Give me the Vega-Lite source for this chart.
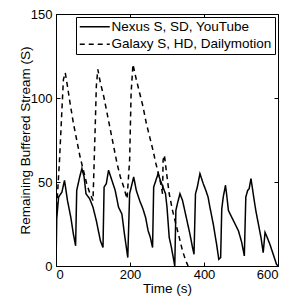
{
  "$schema": "https://vega.github.io/schema/vega-lite/v6.json",
  "width": 222,
  "height": 252,
  "autosize": {"type": "none"},
  "padding": {"left": 56, "top": 14, "right": 14, "bottom": 31},
  "config": {
    "font": "Liberation Sans",
    "view": {"stroke": "black", "strokeWidth": 1},
    "axis": {
      "domain": false,
      "grid": false,
      "tickColor": "black",
      "tickSize": -4,
      "tickWidth": 1,
      "labelColor": "black",
      "labelFontSize": 13,
      "labelFont": "Liberation Sans",
      "titleColor": "black",
      "titleFontSize": 13.5,
      "titleFontWeight": "normal",
      "titleFont": "Liberation Sans"
    }
  },
  "data": {
    "values": [
      {"t": 0, "v": 0, "s": "Nexus S, SD, YouTube"},
      {"t": 2, "v": 28, "s": "Nexus S, SD, YouTube"},
      {"t": 7, "v": 41, "s": "Nexus S, SD, YouTube"},
      {"t": 16, "v": 44, "s": "Nexus S, SD, YouTube"},
      {"t": 23, "v": 51, "s": "Nexus S, SD, YouTube"},
      {"t": 31, "v": 39, "s": "Nexus S, SD, YouTube"},
      {"t": 40, "v": 29, "s": "Nexus S, SD, YouTube"},
      {"t": 47, "v": 19, "s": "Nexus S, SD, YouTube"},
      {"t": 53, "v": 12, "s": "Nexus S, SD, YouTube"},
      {"t": 56, "v": 45, "s": "Nexus S, SD, YouTube"},
      {"t": 64, "v": 53, "s": "Nexus S, SD, YouTube"},
      {"t": 70, "v": 58, "s": "Nexus S, SD, YouTube"},
      {"t": 76, "v": 53, "s": "Nexus S, SD, YouTube"},
      {"t": 81, "v": 43, "s": "Nexus S, SD, YouTube"},
      {"t": 91, "v": 40, "s": "Nexus S, SD, YouTube"},
      {"t": 100, "v": 35, "s": "Nexus S, SD, YouTube"},
      {"t": 109, "v": 27, "s": "Nexus S, SD, YouTube"},
      {"t": 120, "v": 15, "s": "Nexus S, SD, YouTube"},
      {"t": 127, "v": 11, "s": "Nexus S, SD, YouTube"},
      {"t": 130, "v": 47, "s": "Nexus S, SD, YouTube"},
      {"t": 136, "v": 49, "s": "Nexus S, SD, YouTube"},
      {"t": 142, "v": 57, "s": "Nexus S, SD, YouTube"},
      {"t": 151, "v": 51, "s": "Nexus S, SD, YouTube"},
      {"t": 160, "v": 45, "s": "Nexus S, SD, YouTube"},
      {"t": 169, "v": 35, "s": "Nexus S, SD, YouTube"},
      {"t": 178, "v": 31, "s": "Nexus S, SD, YouTube"},
      {"t": 185, "v": 19, "s": "Nexus S, SD, YouTube"},
      {"t": 194, "v": 5, "s": "Nexus S, SD, YouTube"},
      {"t": 199, "v": 43, "s": "Nexus S, SD, YouTube"},
      {"t": 210, "v": 53, "s": "Nexus S, SD, YouTube"},
      {"t": 217, "v": 45, "s": "Nexus S, SD, YouTube"},
      {"t": 226, "v": 39, "s": "Nexus S, SD, YouTube"},
      {"t": 235, "v": 34, "s": "Nexus S, SD, YouTube"},
      {"t": 242, "v": 29, "s": "Nexus S, SD, YouTube"},
      {"t": 249, "v": 21, "s": "Nexus S, SD, YouTube"},
      {"t": 255, "v": 17, "s": "Nexus S, SD, YouTube"},
      {"t": 261, "v": 11, "s": "Nexus S, SD, YouTube"},
      {"t": 264, "v": 47, "s": "Nexus S, SD, YouTube"},
      {"t": 270, "v": 51, "s": "Nexus S, SD, YouTube"},
      {"t": 276, "v": 55, "s": "Nexus S, SD, YouTube"},
      {"t": 282, "v": 51, "s": "Nexus S, SD, YouTube"},
      {"t": 289, "v": 47, "s": "Nexus S, SD, YouTube"},
      {"t": 296, "v": 43, "s": "Nexus S, SD, YouTube"},
      {"t": 300, "v": 35, "s": "Nexus S, SD, YouTube"},
      {"t": 306, "v": 17, "s": "Nexus S, SD, YouTube"},
      {"t": 312, "v": 11, "s": "Nexus S, SD, YouTube"},
      {"t": 321, "v": 0, "s": "Nexus S, SD, YouTube"},
      {"t": 324, "v": 33, "s": "Nexus S, SD, YouTube"},
      {"t": 328, "v": 37, "s": "Nexus S, SD, YouTube"},
      {"t": 335, "v": 43, "s": "Nexus S, SD, YouTube"},
      {"t": 342, "v": 39, "s": "Nexus S, SD, YouTube"},
      {"t": 348, "v": 33, "s": "Nexus S, SD, YouTube"},
      {"t": 354, "v": 27, "s": "Nexus S, SD, YouTube"},
      {"t": 362, "v": 19, "s": "Nexus S, SD, YouTube"},
      {"t": 369, "v": 11, "s": "Nexus S, SD, YouTube"},
      {"t": 373, "v": 7, "s": "Nexus S, SD, YouTube"},
      {"t": 377, "v": 43, "s": "Nexus S, SD, YouTube"},
      {"t": 382, "v": 47, "s": "Nexus S, SD, YouTube"},
      {"t": 389, "v": 55, "s": "Nexus S, SD, YouTube"},
      {"t": 398, "v": 49, "s": "Nexus S, SD, YouTube"},
      {"t": 405, "v": 45, "s": "Nexus S, SD, YouTube"},
      {"t": 411, "v": 41, "s": "Nexus S, SD, YouTube"},
      {"t": 416, "v": 35, "s": "Nexus S, SD, YouTube"},
      {"t": 425, "v": 25, "s": "Nexus S, SD, YouTube"},
      {"t": 434, "v": 13, "s": "Nexus S, SD, YouTube"},
      {"t": 440, "v": 4, "s": "Nexus S, SD, YouTube"},
      {"t": 445, "v": 5, "s": "Nexus S, SD, YouTube"},
      {"t": 448, "v": 34, "s": "Nexus S, SD, YouTube"},
      {"t": 452, "v": 41, "s": "Nexus S, SD, YouTube"},
      {"t": 458, "v": 48, "s": "Nexus S, SD, YouTube"},
      {"t": 461, "v": 43, "s": "Nexus S, SD, YouTube"},
      {"t": 466, "v": 33, "s": "Nexus S, SD, YouTube"},
      {"t": 475, "v": 29, "s": "Nexus S, SD, YouTube"},
      {"t": 484, "v": 25, "s": "Nexus S, SD, YouTube"},
      {"t": 493, "v": 21, "s": "Nexus S, SD, YouTube"},
      {"t": 502, "v": 14, "s": "Nexus S, SD, YouTube"},
      {"t": 509, "v": 6, "s": "Nexus S, SD, YouTube"},
      {"t": 513, "v": 41, "s": "Nexus S, SD, YouTube"},
      {"t": 518, "v": 45, "s": "Nexus S, SD, YouTube"},
      {"t": 522, "v": 46, "s": "Nexus S, SD, YouTube"},
      {"t": 527, "v": 52, "s": "Nexus S, SD, YouTube"},
      {"t": 533, "v": 43, "s": "Nexus S, SD, YouTube"},
      {"t": 540, "v": 33, "s": "Nexus S, SD, YouTube"},
      {"t": 547, "v": 25, "s": "Nexus S, SD, YouTube"},
      {"t": 554, "v": 17, "s": "Nexus S, SD, YouTube"},
      {"t": 560, "v": 8, "s": "Nexus S, SD, YouTube"},
      {"t": 565, "v": 20, "s": "Nexus S, SD, YouTube"},
      {"t": 569, "v": 18, "s": "Nexus S, SD, YouTube"},
      {"t": 578, "v": 13, "s": "Nexus S, SD, YouTube"},
      {"t": 587, "v": 7, "s": "Nexus S, SD, YouTube"},
      {"t": 596, "v": 1, "s": "Nexus S, SD, YouTube"},
      {"t": 600, "v": 0, "s": "Nexus S, SD, YouTube"},
      {"t": 2, "v": 35, "s": "Galaxy S, HD, Dailymotion"},
      {"t": 9.5, "v": 63, "s": "Galaxy S, HD, Dailymotion"},
      {"t": 16, "v": 93, "s": "Galaxy S, HD, Dailymotion"},
      {"t": 20, "v": 111, "s": "Galaxy S, HD, Dailymotion"},
      {"t": 25, "v": 115, "s": "Galaxy S, HD, Dailymotion"},
      {"t": 31, "v": 107, "s": "Galaxy S, HD, Dailymotion"},
      {"t": 38, "v": 97, "s": "Galaxy S, HD, Dailymotion"},
      {"t": 47, "v": 85, "s": "Galaxy S, HD, Dailymotion"},
      {"t": 56, "v": 75, "s": "Galaxy S, HD, Dailymotion"},
      {"t": 65, "v": 65, "s": "Galaxy S, HD, Dailymotion"},
      {"t": 74, "v": 57, "s": "Galaxy S, HD, Dailymotion"},
      {"t": 83, "v": 49, "s": "Galaxy S, HD, Dailymotion"},
      {"t": 92, "v": 43, "s": "Galaxy S, HD, Dailymotion"},
      {"t": 100, "v": 39, "s": "Galaxy S, HD, Dailymotion"},
      {"t": 106, "v": 83, "s": "Galaxy S, HD, Dailymotion"},
      {"t": 109, "v": 107, "s": "Galaxy S, HD, Dailymotion"},
      {"t": 113, "v": 117, "s": "Galaxy S, HD, Dailymotion"},
      {"t": 120, "v": 109, "s": "Galaxy S, HD, Dailymotion"},
      {"t": 129, "v": 101, "s": "Galaxy S, HD, Dailymotion"},
      {"t": 138, "v": 91, "s": "Galaxy S, HD, Dailymotion"},
      {"t": 147, "v": 81, "s": "Galaxy S, HD, Dailymotion"},
      {"t": 156, "v": 71, "s": "Galaxy S, HD, Dailymotion"},
      {"t": 165, "v": 61, "s": "Galaxy S, HD, Dailymotion"},
      {"t": 174, "v": 53, "s": "Galaxy S, HD, Dailymotion"},
      {"t": 183, "v": 47, "s": "Galaxy S, HD, Dailymotion"},
      {"t": 192, "v": 40, "s": "Galaxy S, HD, Dailymotion"},
      {"t": 199, "v": 63, "s": "Galaxy S, HD, Dailymotion"},
      {"t": 203, "v": 103, "s": "Galaxy S, HD, Dailymotion"},
      {"t": 208, "v": 120, "s": "Galaxy S, HD, Dailymotion"},
      {"t": 217, "v": 111, "s": "Galaxy S, HD, Dailymotion"},
      {"t": 226, "v": 103, "s": "Galaxy S, HD, Dailymotion"},
      {"t": 235, "v": 95, "s": "Galaxy S, HD, Dailymotion"},
      {"t": 244, "v": 85, "s": "Galaxy S, HD, Dailymotion"},
      {"t": 253, "v": 77, "s": "Galaxy S, HD, Dailymotion"},
      {"t": 262, "v": 69, "s": "Galaxy S, HD, Dailymotion"},
      {"t": 270, "v": 61, "s": "Galaxy S, HD, Dailymotion"},
      {"t": 279, "v": 53, "s": "Galaxy S, HD, Dailymotion"},
      {"t": 285, "v": 47, "s": "Galaxy S, HD, Dailymotion"},
      {"t": 288, "v": 43, "s": "Galaxy S, HD, Dailymotion"},
      {"t": 289.5, "v": 63, "s": "Galaxy S, HD, Dailymotion"},
      {"t": 293, "v": 66, "s": "Galaxy S, HD, Dailymotion"},
      {"t": 299, "v": 55, "s": "Galaxy S, HD, Dailymotion"},
      {"t": 306, "v": 43, "s": "Galaxy S, HD, Dailymotion"},
      {"t": 315, "v": 33, "s": "Galaxy S, HD, Dailymotion"},
      {"t": 324, "v": 25, "s": "Galaxy S, HD, Dailymotion"},
      {"t": 333, "v": 17, "s": "Galaxy S, HD, Dailymotion"},
      {"t": 342, "v": 9, "s": "Galaxy S, HD, Dailymotion"},
      {"t": 351, "v": 3, "s": "Galaxy S, HD, Dailymotion"},
      {"t": 357, "v": 0, "s": "Galaxy S, HD, Dailymotion"}
    ]
  },
  "layer": [
    {
      "mark": {"type": "line", "color": "black", "strokeWidth": 1.5, "clip": true},
      "encoding": {
        "x": {
          "field": "t", "type": "quantitative",
          "scale": {"domain": [0, 600], "nice": false},
          "axis": {"title": "Time (s)", "values": [0, 200, 400, 600], "labelPadding": 6, "titlePadding": 0, "orient": "bottom"}
        },
        "y": {
          "field": "v", "type": "quantitative",
          "scale": {"domain": [0, 150], "nice": false},
          "axis": {"title": "Remaining Buffered Stream (S)", "values": [0, 50, 100, 150], "labelPadding": 8, "titlePadding": -2, "orient": "left"}
        },
        "strokeDash": {
          "field": "s", "type": "nominal",
          "scale": {"domain": ["Nexus S, SD, YouTube", "Galaxy S, HD, Dailymotion"], "range": [[1, 0], [5, 4]]},
          "legend": {
            "orient": "none", "legendX": 20, "legendY": 3,
            "title": null,
            "strokeColor": "black", "fillColor": "white",
            "padding": 3, "rowPadding": 2.5,
            "symbolType": "M-5,0H5", "symbolSize": 36,
            "symbolOffset": 9,
            "symbolStrokeWidth": 1.5, "symbolStrokeColor": "black",
            "labelFontSize": 13.5, "labelFont": "Liberation Sans", "labelColor": "black",
            "labelOffset": 10, "labelLimit": 300
          }
        }
      }
    },
    {
      "mark": {"type": "line", "opacity": 0},
      "encoding": {
        "x": {"field": "t", "type": "quantitative", "scale": {"domain": [0, 600], "nice": false}, "axis": {"title": null, "labels": false, "values": [0, 200, 400, 600], "orient": "top"}},
        "y": {"field": "v", "type": "quantitative", "scale": {"domain": [0, 150], "nice": false}, "axis": {"title": null, "labels": false, "values": [0, 50, 100, 150], "orient": "right"}}
      }
    }
  ],
  "resolve": {"axis": {"x": "independent", "y": "independent"}}
}
